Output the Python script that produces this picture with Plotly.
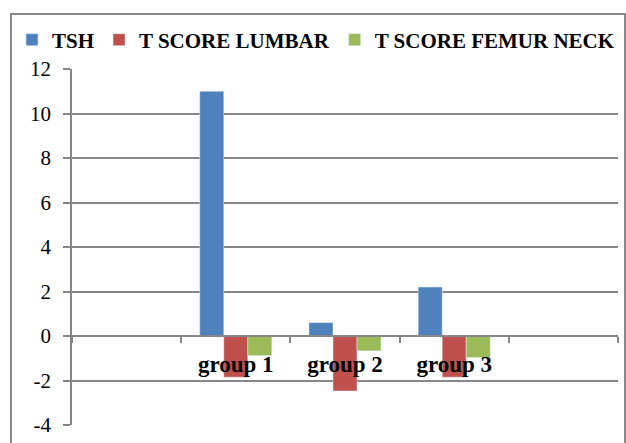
import plotly.graph_objects as go

categories = ["", "group 1", "group 2", "group 3", " "]
tsh = [None, 11.0, 0.6, 2.2, None]
t_lumbar = [None, -1.85, -2.47, -1.85, None]
t_femur = [None, -0.88, -0.67, -0.97, None]

y_ticks = [-4, -2, 0, 2, 4, 6, 8, 10, 12]
y_tick_labels = [str(v) for v in y_ticks]

FONT = "Liberation Serif"
GRID = "#878787"

fig = go.Figure()
fig.add_trace(go.Bar(name="TSH", x=categories, y=tsh, marker_color="#4F81BD"))
fig.add_trace(go.Bar(name="T SCORE LUMBAR", x=categories, y=t_lumbar, marker_color="#C0504D"))
fig.add_trace(go.Bar(name="T SCORE FEMUR NECK", x=categories, y=t_femur, marker_color="#9BBB59"))

fig.update_layout(
    width=626, height=443,
    margin=dict(l=72, r=8, t=69, b=18, autoexpand=False),
    paper_bgcolor="white", plot_bgcolor="white",
    barmode="group", bargap=0.34, bargroupgap=0,
    font=dict(family=FONT, color="black"),
    legend=dict(orientation="h", x=-0.1099, y=1.0815, xanchor="left", yanchor="middle",
                font=dict(family="Liberation Serif, serif", size=21, color="black", weight="bold"),
                bgcolor="rgba(0,0,0,0)", itemclick=False, itemdoubleclick=False),
    showlegend=True,
    xaxis=dict(type="category", categoryorder="array", categoryarray=categories,
               anchor="free", position=0.25, showline=True, linecolor=GRID, linewidth=1.5,
               ticks="outside", tickson="boundaries", ticklen=6, tickcolor=GRID, tickwidth=1.5,
               showgrid=False, tickfont=dict(family=FONT, size=23, color="black", weight="bold"),
               ticklabelstandoff=8, range=[-0.5, 4.5]),
    yaxis=dict(range=[-4, 12], tickvals=y_ticks, ticktext=y_tick_labels,
               showgrid=True, gridcolor=GRID, gridwidth=1.5,
               zeroline=False, showline=True, linecolor=GRID, linewidth=1.5,
               ticks="outside", ticklen=7, tickcolor=GRID, tickwidth=1.5,
               tickfont=dict(family=FONT, size=21, color="black"), ticklabelstandoff=8),
)

fig.add_shape(type="rect", xref="paper", yref="paper",
              x0=-0.1117, x1=1.0128, y0=-0.08, y1=1.1545,
              line=dict(color="#898989", width=2), fillcolor="rgba(0,0,0,0)", layer="below")

fig.write_html("out.html", config={"displayModeBar": False},
               post_script="document.body.style.margin='0';document.body.style.padding='0';")
